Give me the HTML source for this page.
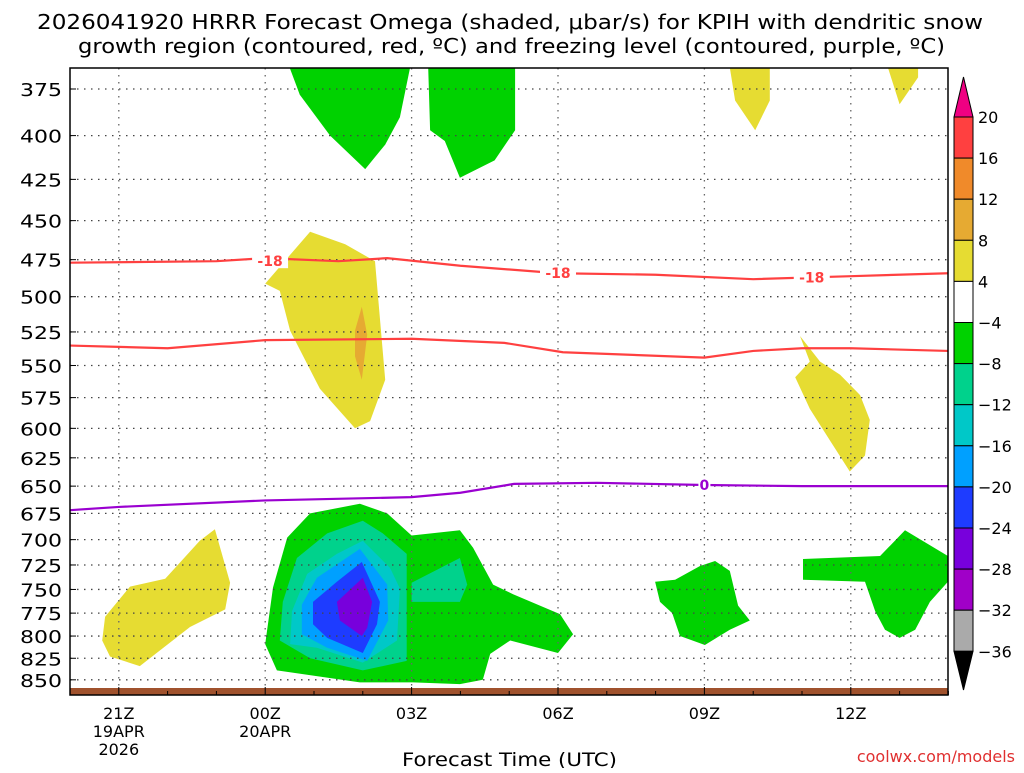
<!DOCTYPE html>
<html><head><meta charset="utf-8"><style>
body{margin:0;background:#fff;width:1024px;height:768px;overflow:hidden;font-family:"Liberation Sans",sans-serif}
svg text{font-family:"DejaVu Sans","Liberation Sans",sans-serif}
</style></head><body>
<svg id="chart" width="1024" height="768" xmlns="http://www.w3.org/2000/svg">
<text x="37" y="29" font-size="20" textLength="946" lengthAdjust="spacingAndGlyphs">2026041920 HRRR Forecast Omega (shaded, μbar/s) for KPIH with dendritic snow</text>
<text x="78" y="53" font-size="20" textLength="867" lengthAdjust="spacingAndGlyphs">growth region (contoured, red, ºC) and freezing level (contoured, purple, ºC)</text>
<g id="fills"></g><g id="grid"></g><g id="lines"></g><g id="axes"></g><g id="cbar"></g>
<text x="402" y="766" font-size="19" textLength="215" lengthAdjust="spacingAndGlyphs">Forecast Time (UTC)</text>
<text x="1015" y="762" font-size="16" fill="#e03030" text-anchor="end">coolwx.com/models</text>
</svg>
<script>
const pLevels=[375,400,425,450,475,500,525,550,575,600,625,650,675,700,725,750,775,800,825,850];
const xTickHours=[1,4,7,10,13,16];
const xTickLabels=["21Z","00Z","03Z","06Z","09Z","12Z"];
const xTickDates=[["19APR","2026"],["20APR"],[],[],[],[]];
const cbLevels=[20,16,12,8,4,-4,-8,-12,-16,-20,-24,-28,-32,-36];
const cbColors=["#ff4040","#f08a2a","#e6aa32","#e6dc32","#ffffff","#00d200","#00d28c","#00c8c8","#00a0ff","#1e3cff","#7800dc","#a000c8","#aaaaaa"];
const regions=[
[5,[4.5,4.71,5.33,6.05,6.46,6.76,6.97],[364,378,400,419,405,390,364]],
[5,[7.34,7.38,7.68,7.99,8.7,9.12,9.12],[364,397,403,424,414,397,364]],
[3,[13.52,13.63,14.04,14.34,14.34],[364,381,397,381,364]],
[3,[16.76,17.0,17.38,17.38],[364,383,369,364]],
[3,[4.0,4.92,5.64,6.25,6.46,6.15,5.84,5.12,4.51,4.3],[491,457,465,476,561,594,600,568,524,496]],
[2,[5.84,5.98,6.09,5.98,5.84],[524,507,527,561,543]],
[3,[14.96,15.16,14.86,15.16,15.57,15.98,16.29,16.39,16.19,15.78,15.37],[528,547,559,584,610,637,623,593,573,557,547]],
[3,[0.72,1.23,1.95,2.66,2.97,3.28,3.18,2.46,1.43,0.82,0.66],[779,747,739,701,690,743,771,790,834,823,805]],
[5,[4.0,4.16,4.45,4.92,5.94,6.5,7.0,7.99,8.26,8.67,9.08,10.04,10.31,10.0,9.02,8.61,8.46,7.99,7.03,5.94,4.24],[809,748,698,675,666,675,696,691,708,745,755,776,798,819,805,820,850,855,853,853,839]],
[6,[4.3,4.36,4.65,5.27,6.0,6.41,6.9,6.9,6.0,4.92],[805,763,718,694,682,694,714,828,839,825]],
[6,[7.0,7.99,8.14,7.99,7.0],[743,718,745,763,763]],
[7,[4.51,4.55,4.86,5.47,6.0,6.56,6.76,6.7,6.0,5.06],[809,773,734,714,701,728,749,805,830,813]],
[8,[4.75,4.75,5.06,5.94,6.5,6.52,6.09,5.27],[798,766,738,709,745,783,828,813]],
[9,[4.98,5.47,5.98,6.35,6.29,6.0,5.27,4.98],[763,742,722,763,787,819,802,787]],
[10,[5.47,6.0,6.19,6.09,5.98,5.53],[763,738,763,791,800,783]],
[5,[11.99,12.09,12.34,12.5,13.01,13.52,13.93,13.69,13.52,13.22,12.91,12.4],[742,763,775,800,810,793,783,767,731,721,726,740]],
[5,[15.02,16.6,17.11,17.99,17.99,17.62,17.32,17.0,16.7,16.5,16.29,15.02],[719,716,691,716,742,763,793,802,793,773,742,740]]
];
const red1Hours=[0,3,4,5.5,6.5,8,10,12,14,16,18];
const red1Press=[477,476,474,476,474,479,484,485,488,486,484];
const red2Hours=[0,1,2,4,7,8.9,10.1,13,14,15,16,18];
const red2Press=[535,536,537,531,530,533,540,544,539,537,537,539];
const frzHours=[0,1,4,7,8,9.1,10.8,13,15,18];
const frzPress=[672,669,663,660,656,648,647,649,650,650];
const labels18=[[4.1,476,"-18"],[10,484,"-18"],[15.2,487,"-18"]];
const labels0=[[13,649,"0"]];
const L=70,R=948,T=68,B=695;
const X=h=>L+h*48.8;
const Y=p=>89+Math.log(p/375)*722;
const NS="http://www.w3.org/2000/svg";
function mk(parent,tag,attrs){const e=document.createElementNS(NS,tag);for(const k in attrs)e.setAttribute(k,attrs[k]);document.getElementById(parent).appendChild(e);return e;}
const clip=mk('fills','clipPath',{id:'pc'});
const cr=document.createElementNS(NS,'rect');cr.setAttribute('x',L);cr.setAttribute('y',T);cr.setAttribute('width',R-L);cr.setAttribute('height',B-T);clip.appendChild(cr);
document.getElementById('fills').setAttribute('clip-path','url(#pc)');
regions.forEach((r,i)=>{
 const pts=r[1].map((h,j)=>X(h).toFixed(1)+','+Y(r[2][j]).toFixed(1)).join(' ');
 const e=mk('fills','polygon',{points:pts,fill:cbColors[r[0]]});
 
 
});
const g=mk('fills','rect',{x:L,y:688,width:R-L,height:7,fill:'#a0522d'});


pLevels.forEach(p=>{
 const e=mk('grid','line',{x1:L,x2:R,y1:Y(p),y2:Y(p),stroke:'#444','stroke-dasharray':'1.5,5.5','stroke-width':1.3});
 
 
 const t=mk('axes','line',{x1:L,x2:L+6,y1:Y(p),y2:Y(p),stroke:'#000'});
 
 
 const lb=mk('axes','text',{x:20,y:Y(p)+7,'font-size':18,textLength:42,lengthAdjust:'spacingAndGlyphs'});
 lb.textContent=p;
 
 
});
xTickHours.forEach((h,i)=>{
 const e=mk('grid','line',{x1:X(h),x2:X(h),y1:T,y2:B,stroke:'#666','stroke-dasharray':'1.5,5.5','stroke-width':1.3});
 
 
 const lines=[xTickLabels[i]].concat(xTickDates[i]);
 lines.forEach((s,k)=>{
  const t=mk('axes','text',{x:X(h),y:719+k*18,'font-size':16,'text-anchor':'middle'});
  t.textContent=s;
  
  
 });
});
for(let h=0;h<=18;h++){
 const t=mk('axes','line',{x1:X(h),x2:X(h),y1:B,y2:B-(h%3==1?8:4),stroke:'#000'});
 
 
}
const fr=mk('axes','rect',{x:L,y:T,width:R-L,height:B-T,fill:'none',stroke:'#000','stroke-width':1.5});


function line(hs,ps,col,name){
 const e=mk('lines','polyline',{points:hs.map((h,j)=>X(h)+','+Y(ps[j])).join(' '),fill:'none',stroke:col,'stroke-width':2.2});
 
 
}
line(red1Hours,red1Press,'#ff4040','dgz-minus18-upper');
line(red2Hours,red2Press,'#ff4040','dgz-minus12-lower');
line(frzHours,frzPress,'#9a00d0','freezing-level');
function lab(arr,col){arr.forEach(a=>{
 const bg=mk('lines','rect',{x:X(a[0])-(a[2].length*6),y:Y(a[1])-7,width:a[2].length*12,height:14,fill:'#fff'});
 
 
 const t=mk('lines','text',{x:X(a[0]),y:Y(a[1])+5,'font-size':14,'font-weight':'bold',fill:col,'text-anchor':'middle'});
 t.textContent=a[2];
 
 
});}
lab(labels18,'#ff4040');lab(labels0,'#9a00d0');
const cx=954,cw=19,cTop=117,step=41.1;
cbColors.forEach((c,i)=>{
 const e=mk('cbar','rect',{x:cx,y:cTop+i*step,width:cw,height:step,fill:c,stroke:'#000','stroke-width':1});
 
 
});
cbLevels.forEach((v,i)=>{
 const t=mk('cbar','text',{x:978,y:cTop+i*step+6,'font-size':16});
 t.textContent=v<0?'\u2212'+(-v):String(v);
 
 
});
const bot=cTop+cbColors.length*step;
const tu=mk('cbar','polygon',{points:`${cx},${cTop} ${cx+cw},${cTop} ${cx+cw/2},77`,fill:'#f00082',stroke:'#000'});


const td=mk('cbar','polygon',{points:`${cx},${bot} ${cx+cw},${bot} ${cx+cw/2},690`,fill:'#000',stroke:'#000'});


</script>
</body></html>
